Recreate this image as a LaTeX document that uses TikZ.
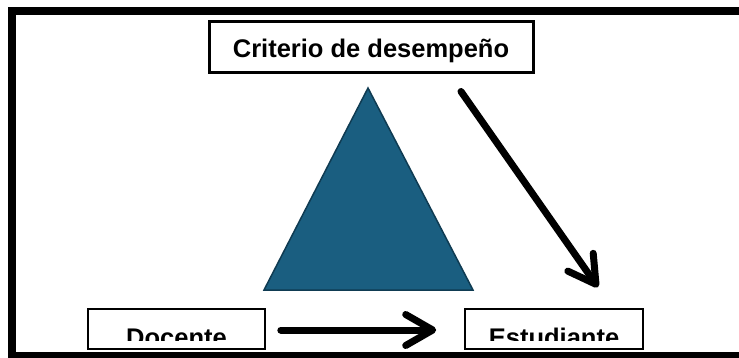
\documentclass[tikz,border=0pt]{standalone}
\usepackage{fontspec}
\setmainfont{Liberation Sans}
\usetikzlibrary{arrows.meta,calc}
\definecolor{tri}{HTML}{1A5E80}
\definecolor{triedge}{HTML}{0F3B52}
\tikzset{
  boxthick/.style={draw=black, line width=3pt, minimum width=324pt, minimum height=51pt, inner sep=0pt, text height=21pt, text depth=0pt, font=\fontsize{25.5}{30}\selectfont\bfseries},
  boxthin/.style={draw=black, line width=1.6pt, minimum width=177pt, minimum height=40pt, inner sep=0pt},
  lbl/.style={anchor=base, inner sep=0pt, font=\fontsize{25.5}{30}\selectfont\bfseries},
  bigarrow/.style={line width=7pt, -{Straight Barb[length=27pt,width=31pt,round]}, line cap=round}
}
\begin{document}
\begin{tikzpicture}[x=1pt,y=-1pt]
\useasboundingbox (0,0) rectangle (739,358);
\clip (0,0) rectangle (739,358);
% triangle
\coordinate (apex) at (368,88);
\coordinate (bl) at (264,290);
\coordinate (br) at (473,290);
\filldraw[fill=tri, draw=triedge, line width=1.5pt, line join=miter] (apex) -- (bl) -- (br) -- cycle;
% top box
\node[boxthick] (crit) at (371,47.5) {Criterio de desempeño};
% bottom boxes
\node[boxthin] (doc) at (176.5,329) {};
\node[boxthin, minimum width=178pt] (est) at (554,329) {};
\begin{scope}
  \clip (0,300) rectangle (739,340);
  \node[lbl] (doct) at ($(doc.center)+(0,17)$) {Docente};
  \node[lbl] (estt) at ($(est.center)+(0,17)$) {Estudiante};
\end{scope}
% arrows
\draw[bigarrow] ($(doc.east)+(15,1)$) -- ($(est.west)+(-28,1)$);
\draw[bigarrow] ($(crit.south)+(90,17)$) -- ($(est.north)+(44,-21)$);
% frame
\draw[line width=8pt] (12,11) rectangle (747,356);
\end{tikzpicture}
\end{document}
